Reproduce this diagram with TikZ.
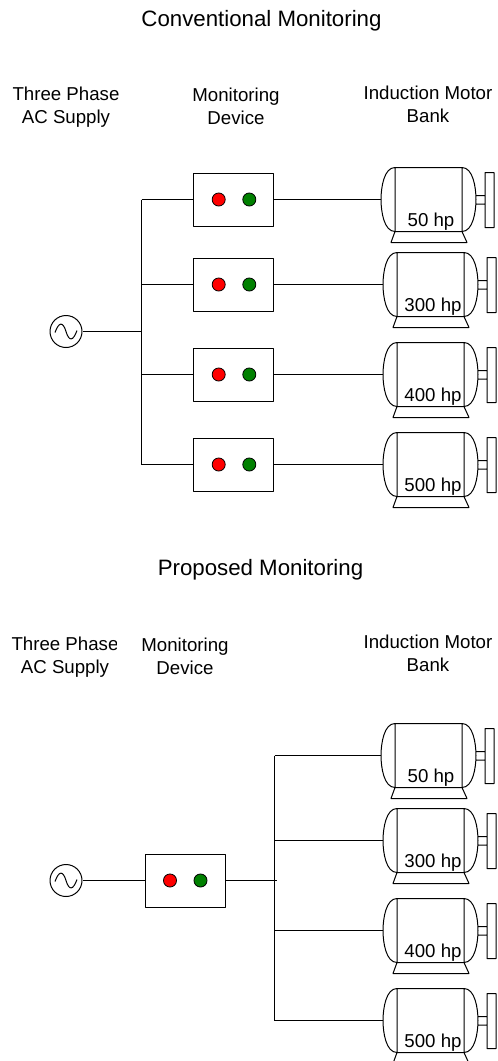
\documentclass[tikz,border=0pt]{standalone}
\usepackage{fontspec}
\setmainfont{Liberation Sans}
\tikzset{
	wire/.style={line width=0.75pt},
	txt/.style={align=center, inner sep=0pt, font=\fontsize{14}{17.2}\selectfont},
	head/.style={inner sep=0pt, font=\fontsize{16.7}{20}\selectfont},
	device/.style={draw, line width=0.75pt, minimum width=60pt, minimum height=39.75pt, inner sep=0pt},
	led/.style={draw, circle, line width=0.6pt, minimum size=9.8pt, inner sep=0pt},
	source/.style={draw, circle, line width=0.75pt, minimum size=24pt, inner sep=0pt},
	pics/motor/.style={code={
		\draw[wire]
		(14,-32)--(81,-32)--(81,32)--(14,32)--cycle
		(14,-32) .. controls (3,-32) and (0,-12) .. (0,0) .. controls (0,12) and (3,32) .. (14,32)
		(81,-32) .. controls (92,-32) and (95,-12) .. (95,0) .. controls (95,12) and (92,32) .. (81,32)
		(14,32)--(10,43)--(86,43)--(81,32)
		(95,-4)--(104,-4) (95,4.5)--(104,4.5)
		(104,-27) rectangle (113,28)
		;
		\coordinate (-in) at (0,0);
		\node[txt] (-hp) at (50,22) {#1};
	}}
}
\begin{document}
\begin{tikzpicture}[x=0.75pt, y=-0.75pt, line join=round]
	\useasboundingbox (0,0) rectangle (498,1061);
	% titles and headings
	\node[head] (title1) at (261.5,21) {Conventional Monitoring};
	\node[head] (title2) at (260.5,569.5) {Proposed Monitoring};
	\node[txt] (supply1) at (66,107) {Three Phase\\AC Supply};
	\node[txt] (mon1) at (236,106) {Monitoring\\Device};
	\node[txt] (bank1) at (428,104) {Induction Motor\\Bank};
	\begin{scope}
		\clip (0,625) rectangle (116,680);
		\node[txt] (supply2) at (65,657) {Three Phase\\AC Supply};
	\end{scope}
	\node[txt] (mon2) at (185,656.5) {Monitoring\\Device};
	\node[txt] (bank2) at (428,653.5) {Induction Motor\\Bank};
	% sources
	\foreach \n/\y in {1/331.5,2/880.5}
	{
		\node[source] (s\n) at (66,\y) {};
		\draw[wire, shift={(66,\y)}] (-11,1) .. controls (-7,-10) and (-3,-10) .. (0,0)
		.. controls (3,10) and (7,10) .. (11,-1);
	}
	% upper bank
	\path
	(141.5,331.5) coordinate (bus1)
	(141.5,199.5) coordinate (top1)
	(141.5,464.5) coordinate (bot1)
	;
	\draw[wire] (s1)--(bus1) (top1)--(bot1);
	\foreach \n/\y/\xm/\hp in {1/199.5/381/50 hp,2/284.5/383/300 hp,3/374.5/383/400 hp,4/464.5/383/500 hp}
	{
		\node[device] (d\n) at (233.7,\y) {};
		\node[led, fill=red] (r\n) at (218.7,\y) {};
		\node[led, fill=green!50!black] (g\n) at (249.3,\y) {};
		\pic (m\n) at (\xm,\y) {motor=\hp};
		\draw[wire] (141.5,\y)--(d\n) (d\n)--(m\n-in);
	}
	% lower bank
	\node[device] (dp) at (185,880.5) {};
	\node[led, fill=red] (rp) at (170,880.5) {};
	\node[led, fill=green!50!black] (gp) at (200.5,880.5) {};
	\path
	(277,880.5) coordinate (bus2)
	(274.5,755.5) coordinate (top2)
	(274.5,1020.5) coordinate (bot2)
	;
	\draw[wire] (s2)--(dp) (dp)--(bus2) (top2)--(bot2);
	\foreach \n/\y/\xm/\hp in {5/755.5/381/50 hp,6/840.5/383/300 hp,7/930.5/383/400 hp,8/1020.5/383/500 hp}
	{
		\pic (m\n) at (\xm,\y) {motor=\hp};
		\draw[wire] (274.5,\y)--(m\n-in);
	}
\end{tikzpicture}
\end{document}
